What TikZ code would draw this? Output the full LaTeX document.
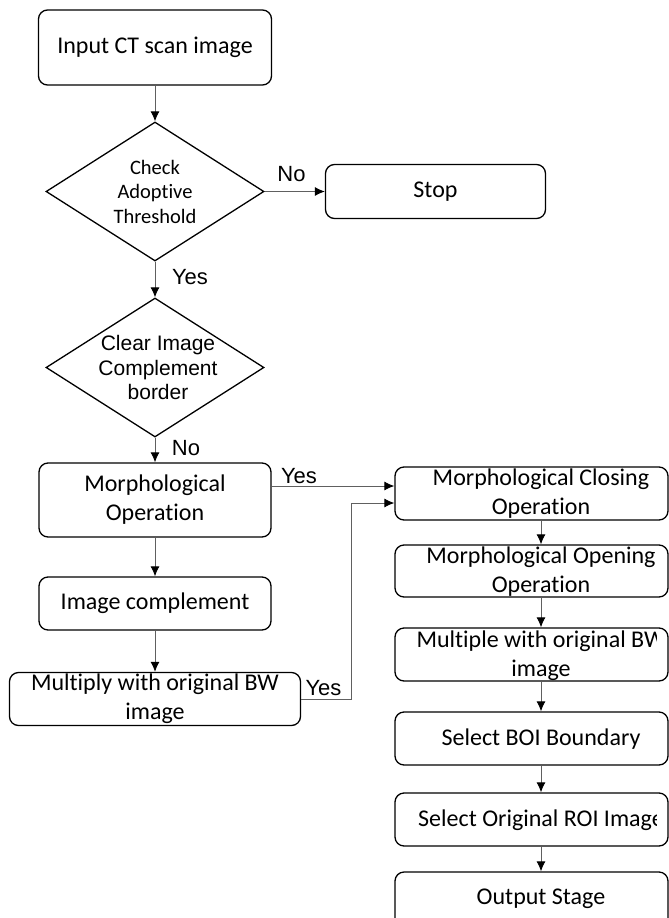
\documentclass[tikz,border=0pt]{standalone}
\usepackage{fontspec}
\setmainfont[Ligatures=NoCommon]{Carlito}
\newfontfamily\arialfont{Liberation Sans}
\usepackage{tikz}
\usetikzlibrary{shapes.geometric}
\usetikzlibrary{arrows.meta}

\tikzset{
	stepbox/.style={draw, line width=1.3pt, rounded corners=9pt, inner sep=0pt, align=center, font=\fontsize{24}{29}\selectfont},
	decision/.style={draw, diamond, line width=1.3pt, minimum width=218pt, minimum height=139pt, inner sep=0pt},
	steptext/.style={align=center, inner sep=0pt, font=\fontsize{24}{29}\selectfont},
	checktext/.style={align=center, inner sep=0pt, font=\fontsize{20.5}{24.5}\selectfont},
	cleartext/.style={align=center, inner sep=0pt, xshift=3pt, font=\arialfont\fontsize{21}{24.5}\selectfont},
	answer/.style={inner sep=0pt, font=\arialfont\fontsize{22}{22}\selectfont},
	flow/.style={draw=gray!75!black, line width=0.9pt, -{Latex[length=10pt,width=9pt,black]}}
}

\begin{document}
\begin{tikzpicture}[x=1pt, y=-1pt]
	\useasboundingbox (0,0) rectangle (669,918);
	\clip (0,0) rectangle (669,918);
	% Left column:
	\node[stepbox, minimum width=233pt, minimum height=75pt] (input) at (155,47.5) {Input CT scan image};
	\node[decision, label={[checktext]center:Check\\Adoptive\\Threshold}] (adaptive) at (155,191.5) {};
	\node[stepbox, minimum width=220pt, minimum height=54pt] (stop) at (435.5,191.5) {Stop};
	\node[decision, label={[cleartext]center:Clear Image\\Complement\\border}] (clear) at (155,367.5) {};
	\node[stepbox, minimum width=232pt, minimum height=74pt] (morph) at (155,500) {Morphological\\Operation};
	\node[stepbox, minimum width=232pt, minimum height=53pt] (compl) at (155,603.5) {Image complement};
	\node[stepbox, minimum width=291pt, minimum height=53pt] (multiply) at (155,699) {Multiply with original BW\\image};
	% Right column:
	\node[stepbox, minimum width=273pt, minimum height=53pt] (closing) at (531.5,493.5) {};
	\node[stepbox, minimum width=273pt, minimum height=52pt] (opening) at (531.5,571) {};
	\node[stepbox, minimum width=273pt, minimum height=53pt] (multbw) at (531.5,654.5) {};
	\node[stepbox, minimum width=273pt, minimum height=53pt] (boi) at (531.5,738.5) {};
	\node[stepbox, minimum width=273pt, minimum height=53pt] (roi) at (531.5,819.5) {};
	\node[stepbox, minimum width=273pt, minimum height=64pt] (output) at (531.5,904) {};
	\begin{scope}
		\clip (0,0) rectangle (656,918);
		\node[steptext] (closingT) at (541,494) {Morphological Closing\\Operation};
		\node[steptext] (openingT) at (541,571.5) {Morphological Opening\\Operation};
		\node[steptext] (multbwT) at (541,656) {Multiple with original BW\\image};
		\node[steptext] (boiT) at (541,739) {Select BOI Boundary};
		\node[steptext] (roiT) at (541,820) {Select Original ROI Image};
		\node[steptext] (outputT) at (541,899) {Output Stage};
	\end{scope}
	% Answers:
	\node[answer] (no1) at (291.5,174) {No};
	\node[answer] (yes1) at (190,277) {Yes};
	\node[answer] (no2) at (186,448) {No};
	\node[answer] (yes2) at (299,476) {Yes};
	\node[answer] (yes3) at (323.5,688) {Yes};
	% Wires:
	\coordinate (in1) at ([yshift=7.5pt]closing.west);
	\coordinate (in2) at ([yshift=-9.5pt]closing.west);
	\draw[flow] (input) -- (adaptive);
	\draw[flow] (adaptive) -- (stop);
	\draw[flow] (adaptive) -- (clear);
	\draw[flow] (clear) -- (morph);
	\draw[flow] (morph) -- (compl);
	\draw[flow] (compl) -- (multiply);
	\draw[flow] (morph.east |- in1) -- (in1);
	\draw[flow] (multiply.east) -- ++(50,0) |- (in2);
	\draw[flow] ([xshift=9.5pt]closing.south) -- ([xshift=9.5pt]opening.north);
	\draw[flow] ([xshift=9.5pt]opening.south) -- ([xshift=9.5pt]multbw.north);
	\draw[flow] ([xshift=9.5pt]multbw.south) -- ([xshift=9.5pt]boi.north);
	\draw[flow] ([xshift=9.5pt]boi.south) -- ([xshift=9.5pt]roi.north);
	\draw[flow] ([xshift=9.5pt]roi.south) -- ([xshift=9.5pt]output.north);
\end{tikzpicture}
\end{document}
